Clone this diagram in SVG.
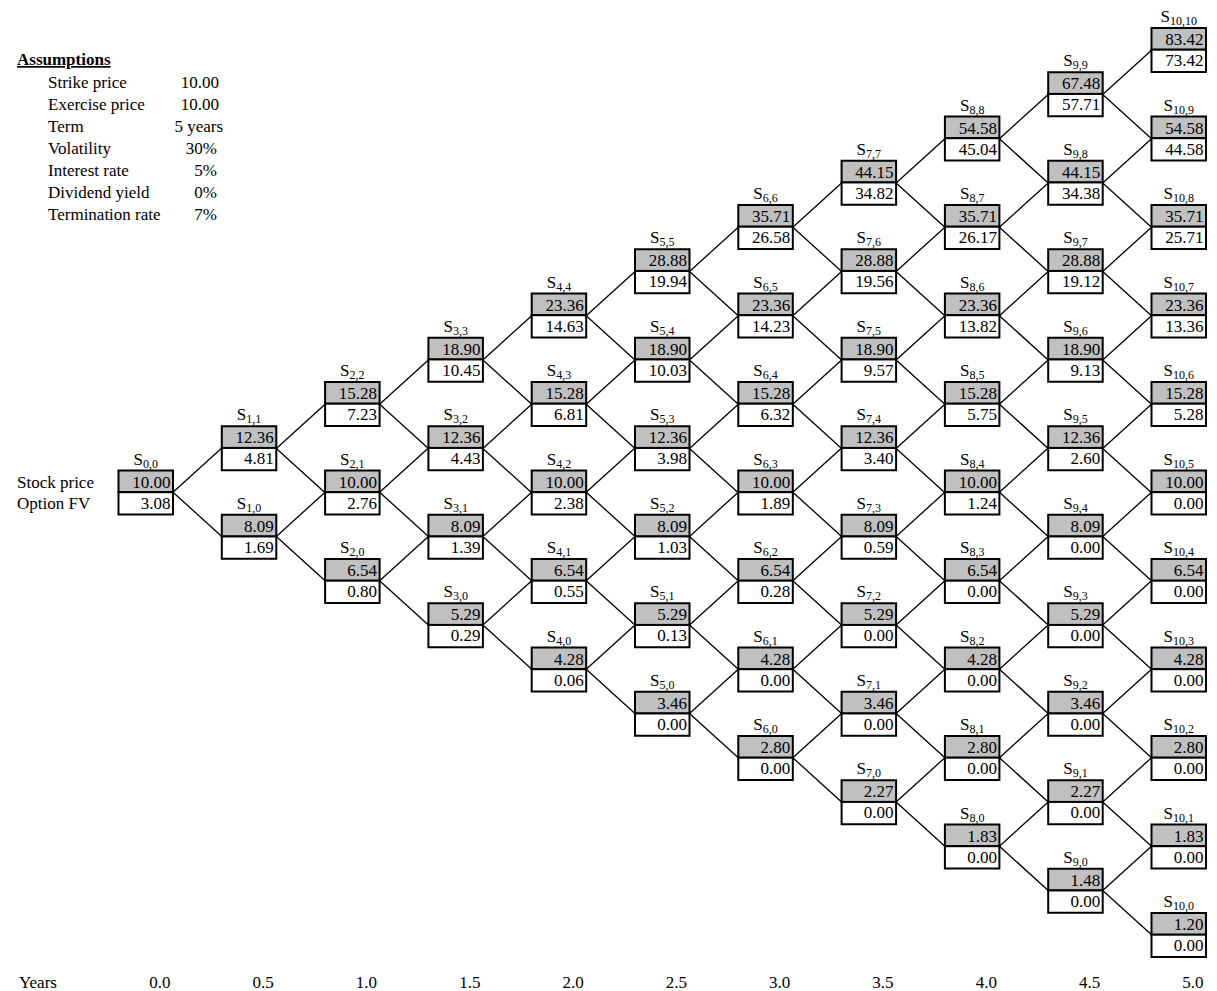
<svg xmlns="http://www.w3.org/2000/svg" xmlns:xlink="http://www.w3.org/1999/xlink" width="1217" height="991" viewBox="0 0 1217 991">
<style>
text{font-family:"Liberation Serif","Times New Roman",serif;font-size:17px;fill:#000}
.v{text-anchor:end}
.l{text-anchor:middle}
.s{font-size:12px}
.b{font-weight:bold;text-decoration:underline}
.g{fill:#c0c0c0;stroke:#000;stroke-width:2}
.w{fill:#fff;stroke:#000;stroke-width:2}
.c{stroke:#000;stroke-width:1.3;fill:none}
</style>
<defs>
<g id="box"><rect class="g" width="54.5" height="21.7"/><rect class="w" y="21.7" width="54.5" height="22.3"/></g>
<path id="fork" d="M0,0 L48.8,-44.25 M0,0 L48.8,44.25"/>
</defs>
<rect width="1217" height="991" fill="#fff"/>
<g id="assumptions">
<text class="b" x="17" y="65">Assumptions</text>
<text x="48" y="88">Strike price</text><text class="v" x="219" y="88">10.00</text>
<text x="48" y="110">Exercise price</text><text class="v" x="219" y="110">10.00</text>
<text x="48" y="132">Term</text><text class="v" x="223" y="132">5 years</text>
<text x="48" y="154">Volatility</text><text class="v" x="217" y="154">30%</text>
<text x="48" y="176">Interest rate</text><text class="v" x="217" y="176">5%</text>
<text x="48" y="198">Dividend yield</text><text class="v" x="217" y="198">0%</text>
<text x="48" y="220">Termination rate</text><text class="v" x="217" y="220">7%</text>
</g>
<g id="row-labels">
<text x="17" y="487.5">Stock price</text>
<text x="17" y="508.5">Option FV</text>
</g>
<g id="connectors" class="c">
<use href="#fork" x="173" y="492.2"/>
<use href="#fork" x="276.3" y="448.45"/><use href="#fork" x="276.3" y="536.45"/>
<use href="#fork" x="379.6" y="404.2"/><use href="#fork" x="379.6" y="492.2"/><use href="#fork" x="379.6" y="580.7"/>
<use href="#fork" x="482.9" y="359.95"/><use href="#fork" x="482.9" y="448.45"/><use href="#fork" x="482.9" y="536.45"/><use href="#fork" x="482.9" y="624.95"/>
<use href="#fork" x="586.2" y="315.7"/><use href="#fork" x="586.2" y="404.2"/><use href="#fork" x="586.2" y="492.2"/><use href="#fork" x="586.2" y="580.7"/><use href="#fork" x="586.2" y="669.2"/>
<use href="#fork" x="689.5" y="271.45"/><use href="#fork" x="689.5" y="359.95"/><use href="#fork" x="689.5" y="448.45"/><use href="#fork" x="689.5" y="536.45"/><use href="#fork" x="689.5" y="624.95"/><use href="#fork" x="689.5" y="713.45"/>
<use href="#fork" x="792.8" y="227.2"/><use href="#fork" x="792.8" y="315.7"/><use href="#fork" x="792.8" y="404.2"/><use href="#fork" x="792.8" y="492.2"/><use href="#fork" x="792.8" y="580.7"/><use href="#fork" x="792.8" y="669.2"/><use href="#fork" x="792.8" y="757.7"/>
<use href="#fork" x="896.1" y="182.95"/><use href="#fork" x="896.1" y="271.45"/><use href="#fork" x="896.1" y="359.95"/><use href="#fork" x="896.1" y="448.45"/><use href="#fork" x="896.1" y="536.45"/><use href="#fork" x="896.1" y="624.95"/><use href="#fork" x="896.1" y="713.45"/><use href="#fork" x="896.1" y="801.95"/>
<use href="#fork" x="999.4" y="138.7"/><use href="#fork" x="999.4" y="227.2"/><use href="#fork" x="999.4" y="315.7"/><use href="#fork" x="999.4" y="404.2"/><use href="#fork" x="999.4" y="492.2"/><use href="#fork" x="999.4" y="580.7"/><use href="#fork" x="999.4" y="669.2"/><use href="#fork" x="999.4" y="757.7"/><use href="#fork" x="999.4" y="846.2"/>
<use href="#fork" x="1102.7" y="94.45"/><use href="#fork" x="1102.7" y="182.95"/><use href="#fork" x="1102.7" y="271.45"/><use href="#fork" x="1102.7" y="359.95"/><use href="#fork" x="1102.7" y="448.45"/><use href="#fork" x="1102.7" y="536.45"/><use href="#fork" x="1102.7" y="624.95"/><use href="#fork" x="1102.7" y="713.45"/><use href="#fork" x="1102.7" y="801.95"/><use href="#fork" x="1102.7" y="890.45"/>
</g>
<g id="nodes">
<g id="S0_0" transform="translate(118.5,470.5)"><use href="#box"/><text class="l" x="27.25" y="-6">S<tspan class="s" dy="3">0,0</tspan></text><text class="v" x="52" y="17">10.00</text><text class="v" x="52" y="38">3.08</text></g>

<g id="S1_1" transform="translate(221.8,426.25)"><use href="#box"/><text class="l" x="27.25" y="-6">S<tspan class="s" dy="3">1,1</tspan></text><text class="v" x="52" y="17">12.36</text><text class="v" x="52" y="38">4.81</text></g>
<g id="S1_0" transform="translate(221.8,514.75)"><use href="#box"/><text class="l" x="27.25" y="-6">S<tspan class="s" dy="3">1,0</tspan></text><text class="v" x="52" y="17">8.09</text><text class="v" x="52" y="38">1.69</text></g>

<g id="S2_2" transform="translate(325.1,382)"><use href="#box"/><text class="l" x="27.25" y="-6">S<tspan class="s" dy="3">2,2</tspan></text><text class="v" x="52" y="17">15.28</text><text class="v" x="52" y="38">7.23</text></g>
<g id="S2_1" transform="translate(325.1,470.5)"><use href="#box"/><text class="l" x="27.25" y="-6">S<tspan class="s" dy="3">2,1</tspan></text><text class="v" x="52" y="17">10.00</text><text class="v" x="52" y="38">2.76</text></g>
<g id="S2_0" transform="translate(325.1,559)"><use href="#box"/><text class="l" x="27.25" y="-6">S<tspan class="s" dy="3">2,0</tspan></text><text class="v" x="52" y="17">6.54</text><text class="v" x="52" y="38">0.80</text></g>

<g id="S3_3" transform="translate(428.4,337.75)"><use href="#box"/><text class="l" x="27.25" y="-6">S<tspan class="s" dy="3">3,3</tspan></text><text class="v" x="52" y="17">18.90</text><text class="v" x="52" y="38">10.45</text></g>
<g id="S3_2" transform="translate(428.4,426.25)"><use href="#box"/><text class="l" x="27.25" y="-6">S<tspan class="s" dy="3">3,2</tspan></text><text class="v" x="52" y="17">12.36</text><text class="v" x="52" y="38">4.43</text></g>
<g id="S3_1" transform="translate(428.4,514.75)"><use href="#box"/><text class="l" x="27.25" y="-6">S<tspan class="s" dy="3">3,1</tspan></text><text class="v" x="52" y="17">8.09</text><text class="v" x="52" y="38">1.39</text></g>
<g id="S3_0" transform="translate(428.4,603.25)"><use href="#box"/><text class="l" x="27.25" y="-6">S<tspan class="s" dy="3">3,0</tspan></text><text class="v" x="52" y="17">5.29</text><text class="v" x="52" y="38">0.29</text></g>

<g id="S4_4" transform="translate(531.7,293.5)"><use href="#box"/><text class="l" x="27.25" y="-6">S<tspan class="s" dy="3">4,4</tspan></text><text class="v" x="52" y="17">23.36</text><text class="v" x="52" y="38">14.63</text></g>
<g id="S4_3" transform="translate(531.7,382)"><use href="#box"/><text class="l" x="27.25" y="-6">S<tspan class="s" dy="3">4,3</tspan></text><text class="v" x="52" y="17">15.28</text><text class="v" x="52" y="38">6.81</text></g>
<g id="S4_2" transform="translate(531.7,470.5)"><use href="#box"/><text class="l" x="27.25" y="-6">S<tspan class="s" dy="3">4,2</tspan></text><text class="v" x="52" y="17">10.00</text><text class="v" x="52" y="38">2.38</text></g>
<g id="S4_1" transform="translate(531.7,559)"><use href="#box"/><text class="l" x="27.25" y="-6">S<tspan class="s" dy="3">4,1</tspan></text><text class="v" x="52" y="17">6.54</text><text class="v" x="52" y="38">0.55</text></g>
<g id="S4_0" transform="translate(531.7,647.5)"><use href="#box"/><text class="l" x="27.25" y="-6">S<tspan class="s" dy="3">4,0</tspan></text><text class="v" x="52" y="17">4.28</text><text class="v" x="52" y="38">0.06</text></g>

<g id="S5_5" transform="translate(635,249.25)"><use href="#box"/><text class="l" x="27.25" y="-6">S<tspan class="s" dy="3">5,5</tspan></text><text class="v" x="52" y="17">28.88</text><text class="v" x="52" y="38">19.94</text></g>
<g id="S5_4" transform="translate(635,337.75)"><use href="#box"/><text class="l" x="27.25" y="-6">S<tspan class="s" dy="3">5,4</tspan></text><text class="v" x="52" y="17">18.90</text><text class="v" x="52" y="38">10.03</text></g>
<g id="S5_3" transform="translate(635,426.25)"><use href="#box"/><text class="l" x="27.25" y="-6">S<tspan class="s" dy="3">5,3</tspan></text><text class="v" x="52" y="17">12.36</text><text class="v" x="52" y="38">3.98</text></g>
<g id="S5_2" transform="translate(635,514.75)"><use href="#box"/><text class="l" x="27.25" y="-6">S<tspan class="s" dy="3">5,2</tspan></text><text class="v" x="52" y="17">8.09</text><text class="v" x="52" y="38">1.03</text></g>
<g id="S5_1" transform="translate(635,603.25)"><use href="#box"/><text class="l" x="27.25" y="-6">S<tspan class="s" dy="3">5,1</tspan></text><text class="v" x="52" y="17">5.29</text><text class="v" x="52" y="38">0.13</text></g>
<g id="S5_0" transform="translate(635,691.75)"><use href="#box"/><text class="l" x="27.25" y="-6">S<tspan class="s" dy="3">5,0</tspan></text><text class="v" x="52" y="17">3.46</text><text class="v" x="52" y="38">0.00</text></g>

<g id="S6_6" transform="translate(738.3,205)"><use href="#box"/><text class="l" x="27.25" y="-6">S<tspan class="s" dy="3">6,6</tspan></text><text class="v" x="52" y="17">35.71</text><text class="v" x="52" y="38">26.58</text></g>
<g id="S6_5" transform="translate(738.3,293.5)"><use href="#box"/><text class="l" x="27.25" y="-6">S<tspan class="s" dy="3">6,5</tspan></text><text class="v" x="52" y="17">23.36</text><text class="v" x="52" y="38">14.23</text></g>
<g id="S6_4" transform="translate(738.3,382)"><use href="#box"/><text class="l" x="27.25" y="-6">S<tspan class="s" dy="3">6,4</tspan></text><text class="v" x="52" y="17">15.28</text><text class="v" x="52" y="38">6.32</text></g>
<g id="S6_3" transform="translate(738.3,470.5)"><use href="#box"/><text class="l" x="27.25" y="-6">S<tspan class="s" dy="3">6,3</tspan></text><text class="v" x="52" y="17">10.00</text><text class="v" x="52" y="38">1.89</text></g>
<g id="S6_2" transform="translate(738.3,559)"><use href="#box"/><text class="l" x="27.25" y="-6">S<tspan class="s" dy="3">6,2</tspan></text><text class="v" x="52" y="17">6.54</text><text class="v" x="52" y="38">0.28</text></g>
<g id="S6_1" transform="translate(738.3,647.5)"><use href="#box"/><text class="l" x="27.25" y="-6">S<tspan class="s" dy="3">6,1</tspan></text><text class="v" x="52" y="17">4.28</text><text class="v" x="52" y="38">0.00</text></g>
<g id="S6_0" transform="translate(738.3,736)"><use href="#box"/><text class="l" x="27.25" y="-6">S<tspan class="s" dy="3">6,0</tspan></text><text class="v" x="52" y="17">2.80</text><text class="v" x="52" y="38">0.00</text></g>

<g id="S7_7" transform="translate(841.6,160.75)"><use href="#box"/><text class="l" x="27.25" y="-6">S<tspan class="s" dy="3">7,7</tspan></text><text class="v" x="52" y="17">44.15</text><text class="v" x="52" y="38">34.82</text></g>
<g id="S7_6" transform="translate(841.6,249.25)"><use href="#box"/><text class="l" x="27.25" y="-6">S<tspan class="s" dy="3">7,6</tspan></text><text class="v" x="52" y="17">28.88</text><text class="v" x="52" y="38">19.56</text></g>
<g id="S7_5" transform="translate(841.6,337.75)"><use href="#box"/><text class="l" x="27.25" y="-6">S<tspan class="s" dy="3">7,5</tspan></text><text class="v" x="52" y="17">18.90</text><text class="v" x="52" y="38">9.57</text></g>
<g id="S7_4" transform="translate(841.6,426.25)"><use href="#box"/><text class="l" x="27.25" y="-6">S<tspan class="s" dy="3">7,4</tspan></text><text class="v" x="52" y="17">12.36</text><text class="v" x="52" y="38">3.40</text></g>
<g id="S7_3" transform="translate(841.6,514.75)"><use href="#box"/><text class="l" x="27.25" y="-6">S<tspan class="s" dy="3">7,3</tspan></text><text class="v" x="52" y="17">8.09</text><text class="v" x="52" y="38">0.59</text></g>
<g id="S7_2" transform="translate(841.6,603.25)"><use href="#box"/><text class="l" x="27.25" y="-6">S<tspan class="s" dy="3">7,2</tspan></text><text class="v" x="52" y="17">5.29</text><text class="v" x="52" y="38">0.00</text></g>
<g id="S7_1" transform="translate(841.6,691.75)"><use href="#box"/><text class="l" x="27.25" y="-6">S<tspan class="s" dy="3">7,1</tspan></text><text class="v" x="52" y="17">3.46</text><text class="v" x="52" y="38">0.00</text></g>
<g id="S7_0" transform="translate(841.6,780.25)"><use href="#box"/><text class="l" x="27.25" y="-6">S<tspan class="s" dy="3">7,0</tspan></text><text class="v" x="52" y="17">2.27</text><text class="v" x="52" y="38">0.00</text></g>

<g id="S8_8" transform="translate(944.9,116.5)"><use href="#box"/><text class="l" x="27.25" y="-6">S<tspan class="s" dy="3">8,8</tspan></text><text class="v" x="52" y="17">54.58</text><text class="v" x="52" y="38">45.04</text></g>
<g id="S8_7" transform="translate(944.9,205)"><use href="#box"/><text class="l" x="27.25" y="-6">S<tspan class="s" dy="3">8,7</tspan></text><text class="v" x="52" y="17">35.71</text><text class="v" x="52" y="38">26.17</text></g>
<g id="S8_6" transform="translate(944.9,293.5)"><use href="#box"/><text class="l" x="27.25" y="-6">S<tspan class="s" dy="3">8,6</tspan></text><text class="v" x="52" y="17">23.36</text><text class="v" x="52" y="38">13.82</text></g>
<g id="S8_5" transform="translate(944.9,382)"><use href="#box"/><text class="l" x="27.25" y="-6">S<tspan class="s" dy="3">8,5</tspan></text><text class="v" x="52" y="17">15.28</text><text class="v" x="52" y="38">5.75</text></g>
<g id="S8_4" transform="translate(944.9,470.5)"><use href="#box"/><text class="l" x="27.25" y="-6">S<tspan class="s" dy="3">8,4</tspan></text><text class="v" x="52" y="17">10.00</text><text class="v" x="52" y="38">1.24</text></g>
<g id="S8_3" transform="translate(944.9,559)"><use href="#box"/><text class="l" x="27.25" y="-6">S<tspan class="s" dy="3">8,3</tspan></text><text class="v" x="52" y="17">6.54</text><text class="v" x="52" y="38">0.00</text></g>
<g id="S8_2" transform="translate(944.9,647.5)"><use href="#box"/><text class="l" x="27.25" y="-6">S<tspan class="s" dy="3">8,2</tspan></text><text class="v" x="52" y="17">4.28</text><text class="v" x="52" y="38">0.00</text></g>
<g id="S8_1" transform="translate(944.9,736)"><use href="#box"/><text class="l" x="27.25" y="-6">S<tspan class="s" dy="3">8,1</tspan></text><text class="v" x="52" y="17">2.80</text><text class="v" x="52" y="38">0.00</text></g>
<g id="S8_0" transform="translate(944.9,824.5)"><use href="#box"/><text class="l" x="27.25" y="-6">S<tspan class="s" dy="3">8,0</tspan></text><text class="v" x="52" y="17">1.83</text><text class="v" x="52" y="38">0.00</text></g>

<g id="S9_9" transform="translate(1048.2,72.25)"><use href="#box"/><text class="l" x="27.25" y="-6">S<tspan class="s" dy="3">9,9</tspan></text><text class="v" x="52" y="17">67.48</text><text class="v" x="52" y="38">57.71</text></g>
<g id="S9_8" transform="translate(1048.2,160.75)"><use href="#box"/><text class="l" x="27.25" y="-6">S<tspan class="s" dy="3">9,8</tspan></text><text class="v" x="52" y="17">44.15</text><text class="v" x="52" y="38">34.38</text></g>
<g id="S9_7" transform="translate(1048.2,249.25)"><use href="#box"/><text class="l" x="27.25" y="-6">S<tspan class="s" dy="3">9,7</tspan></text><text class="v" x="52" y="17">28.88</text><text class="v" x="52" y="38">19.12</text></g>
<g id="S9_6" transform="translate(1048.2,337.75)"><use href="#box"/><text class="l" x="27.25" y="-6">S<tspan class="s" dy="3">9,6</tspan></text><text class="v" x="52" y="17">18.90</text><text class="v" x="52" y="38">9.13</text></g>
<g id="S9_5" transform="translate(1048.2,426.25)"><use href="#box"/><text class="l" x="27.25" y="-6">S<tspan class="s" dy="3">9,5</tspan></text><text class="v" x="52" y="17">12.36</text><text class="v" x="52" y="38">2.60</text></g>
<g id="S9_4" transform="translate(1048.2,514.75)"><use href="#box"/><text class="l" x="27.25" y="-6">S<tspan class="s" dy="3">9,4</tspan></text><text class="v" x="52" y="17">8.09</text><text class="v" x="52" y="38">0.00</text></g>
<g id="S9_3" transform="translate(1048.2,603.25)"><use href="#box"/><text class="l" x="27.25" y="-6">S<tspan class="s" dy="3">9,3</tspan></text><text class="v" x="52" y="17">5.29</text><text class="v" x="52" y="38">0.00</text></g>
<g id="S9_2" transform="translate(1048.2,691.75)"><use href="#box"/><text class="l" x="27.25" y="-6">S<tspan class="s" dy="3">9,2</tspan></text><text class="v" x="52" y="17">3.46</text><text class="v" x="52" y="38">0.00</text></g>
<g id="S9_1" transform="translate(1048.2,780.25)"><use href="#box"/><text class="l" x="27.25" y="-6">S<tspan class="s" dy="3">9,1</tspan></text><text class="v" x="52" y="17">2.27</text><text class="v" x="52" y="38">0.00</text></g>
<g id="S9_0" transform="translate(1048.2,868.75)"><use href="#box"/><text class="l" x="27.25" y="-6">S<tspan class="s" dy="3">9,0</tspan></text><text class="v" x="52" y="17">1.48</text><text class="v" x="52" y="38">0.00</text></g>

<g id="S10_10" transform="translate(1151.5,28)"><use href="#box"/><text class="l" x="27.25" y="-6">S<tspan class="s" dy="3">10,10</tspan></text><text class="v" x="52" y="17">83.42</text><text class="v" x="52" y="38">73.42</text></g>
<g id="S10_9" transform="translate(1151.5,116.5)"><use href="#box"/><text class="l" x="27.25" y="-6">S<tspan class="s" dy="3">10,9</tspan></text><text class="v" x="52" y="17">54.58</text><text class="v" x="52" y="38">44.58</text></g>
<g id="S10_8" transform="translate(1151.5,205)"><use href="#box"/><text class="l" x="27.25" y="-6">S<tspan class="s" dy="3">10,8</tspan></text><text class="v" x="52" y="17">35.71</text><text class="v" x="52" y="38">25.71</text></g>
<g id="S10_7" transform="translate(1151.5,293.5)"><use href="#box"/><text class="l" x="27.25" y="-6">S<tspan class="s" dy="3">10,7</tspan></text><text class="v" x="52" y="17">23.36</text><text class="v" x="52" y="38">13.36</text></g>
<g id="S10_6" transform="translate(1151.5,382)"><use href="#box"/><text class="l" x="27.25" y="-6">S<tspan class="s" dy="3">10,6</tspan></text><text class="v" x="52" y="17">15.28</text><text class="v" x="52" y="38">5.28</text></g>
<g id="S10_5" transform="translate(1151.5,470.5)"><use href="#box"/><text class="l" x="27.25" y="-6">S<tspan class="s" dy="3">10,5</tspan></text><text class="v" x="52" y="17">10.00</text><text class="v" x="52" y="38">0.00</text></g>
<g id="S10_4" transform="translate(1151.5,559)"><use href="#box"/><text class="l" x="27.25" y="-6">S<tspan class="s" dy="3">10,4</tspan></text><text class="v" x="52" y="17">6.54</text><text class="v" x="52" y="38">0.00</text></g>
<g id="S10_3" transform="translate(1151.5,647.5)"><use href="#box"/><text class="l" x="27.25" y="-6">S<tspan class="s" dy="3">10,3</tspan></text><text class="v" x="52" y="17">4.28</text><text class="v" x="52" y="38">0.00</text></g>
<g id="S10_2" transform="translate(1151.5,736)"><use href="#box"/><text class="l" x="27.25" y="-6">S<tspan class="s" dy="3">10,2</tspan></text><text class="v" x="52" y="17">2.80</text><text class="v" x="52" y="38">0.00</text></g>
<g id="S10_1" transform="translate(1151.5,824.5)"><use href="#box"/><text class="l" x="27.25" y="-6">S<tspan class="s" dy="3">10,1</tspan></text><text class="v" x="52" y="17">1.83</text><text class="v" x="52" y="38">0.00</text></g>
<g id="S10_0" transform="translate(1151.5,913)"><use href="#box"/><text class="l" x="27.25" y="-6">S<tspan class="s" dy="3">10,0</tspan></text><text class="v" x="52" y="17">1.20</text><text class="v" x="52" y="38">0.00</text></g>
</g>
<g id="years">
<text x="19" y="988">Years</text>
<text class="v" x="170.5" y="988">0.0</text>
<text class="v" x="273.8" y="988">0.5</text>
<text class="v" x="377.1" y="988">1.0</text>
<text class="v" x="480.4" y="988">1.5</text>
<text class="v" x="583.7" y="988">2.0</text>
<text class="v" x="687" y="988">2.5</text>
<text class="v" x="790.3" y="988">3.0</text>
<text class="v" x="893.6" y="988">3.5</text>
<text class="v" x="996.9" y="988">4.0</text>
<text class="v" x="1100.2" y="988">4.5</text>
<text class="v" x="1203.5" y="988">5.0</text>
</g>
</svg>
